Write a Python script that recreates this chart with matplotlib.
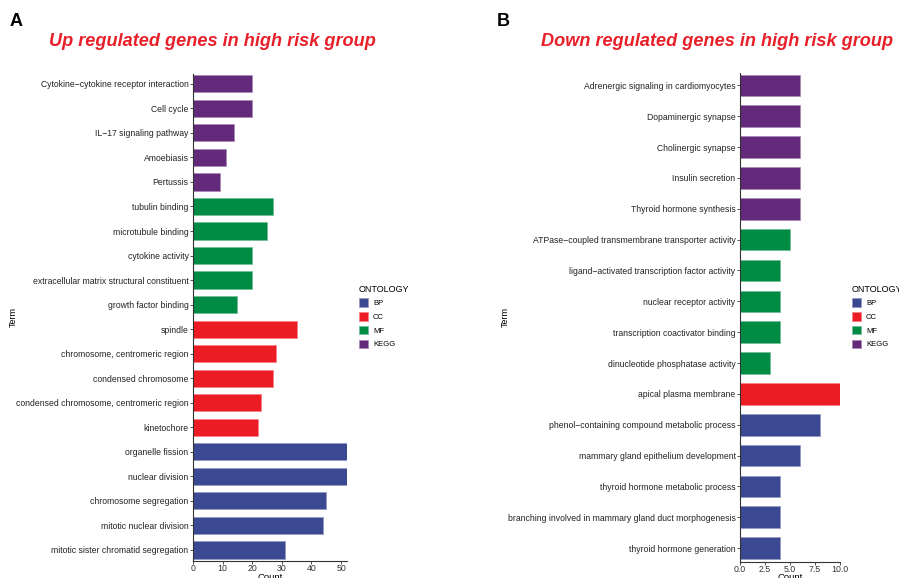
import matplotlib
matplotlib.use("Agg")
import matplotlib.pyplot as plt
from matplotlib.patches import Patch
import matplotlib.colors as mcolors
import numpy as np

plt.rcParams['font.family'] = ['Liberation Sans', 'DejaVu Sans']

# Ontology colours
ont_colors = {"BP": "#3B4992", "CC": "#EC1C24", "MF": "#008B45", "KEGG": "#632A7B"}
ont_order = ["BP", "CC", "MF", "KEGG"]

# Panel A: up regulated genes (listed top to bottom)
up_terms = [
    "Cytokine\u2212cytokine receptor interaction", "Cell cycle", "IL\u221217 signaling pathway",
    "Amoebiasis", "Pertussis",
    "tubulin binding", "microtubule binding", "cytokine activity",
    "extracellular matrix structural constituent", "growth factor binding",
    "spindle", "chromosome, centromeric region", "condensed chromosome",
    "condensed chromosome, centromeric region", "kinetochore",
    "organelle fission", "nuclear division", "chromosome segregation",
    "mitotic nuclear division", "mitotic sister chromatid segregation",
]
up_counts = [20, 20, 14, 11, 9,
             27, 25, 20, 20, 15,
             35, 28, 27, 23, 22,
             52, 52, 45, 44, 31]
up_ont = ["KEGG"] * 5 + ["MF"] * 5 + ["CC"] * 5 + ["BP"] * 5

# Panel B: down regulated genes (listed top to bottom)
down_terms = [
    "Adrenergic signaling in cardiomyocytes", "Dopaminergic synapse", "Cholinergic synapse",
    "Insulin secretion", "Thyroid hormone synthesis",
    "ATPase\u2212coupled transmembrane transporter activity",
    "ligand\u2212activated transcription factor activity", "nuclear receptor activity",
    "transcription coactivator binding", "dinucleotide phosphatase activity",
    "apical plasma membrane",
    "phenol\u2212containing compound metabolic process", "mammary gland epithelium development",
    "thyroid hormone metabolic process",
    "branching involved in mammary gland duct morphogenesis", "thyroid hormone generation",
]
down_counts = [6, 6, 6, 6, 6,
               5, 4, 4, 4, 3,
               10,
               8, 6, 4, 4, 4]
down_ont = ["KEGG"] * 5 + ["MF"] * 5 + ["CC"] + ["BP"] * 5

up_xticks = [0, 10, 20, 30, 40, 50]
down_xticks = [0.0, 2.5, 5.0, 7.5, 10.0]


def lighten(c, amt=0.45):
    r, g, b = mcolors.to_rgb(c)
    return (r + (1 - r) * amt, g + (1 - g) * amt, b + (1 - b) * amt)


def panel(fig, rect, terms, counts, onts, xmax, xticks, xticklabels):
    ax = fig.add_axes(rect)
    n = len(terms)
    ypos = np.arange(n)[::-1]
    fills = [ont_colors[o] for o in onts]
    edges = [lighten(ont_colors[o]) for o in onts]
    ax.barh(ypos, counts, height=0.7, color=fills, edgecolor=edges, linewidth=0.6)
    ax.set_yticks(ypos)
    ax.set_yticklabels(terms, fontsize=6.2, color="#222222")
    ax.set_ylim(-0.45, n - 0.6)
    ax.set_xlim(0, xmax)
    ax.set_xticks(xticks)
    ax.set_xticklabels(xticklabels, fontsize=6.3, color="#333333")
    for s in ["top", "right"]:
        ax.spines[s].set_visible(False)
    for s in ["left", "bottom"]:
        ax.spines[s].set_color("#333333")
        ax.spines[s].set_linewidth(0.8)
    ax.tick_params(axis="both", length=2, width=0.6, color="#333333", pad=1.2)
    ax.tick_params(axis="x", pad=0.3)
    ax.set_xlabel("Count", fontsize=6.8, labelpad=-0.5)
    return ax


fig = plt.figure(figsize=(8.99, 5.78), dpi=100)

axA = panel(fig, [193 / 899, 1 - 561 / 578, 154 / 899, 487 / 578],
            up_terms, up_counts, up_ont, 52, up_xticks, [str(t) for t in up_xticks])
axB = panel(fig, [740 / 899, 1 - 562 / 578, 100 / 899, 489 / 578],
            down_terms, down_counts, down_ont, 10, down_xticks,
            ["0.0", "2.5", "5.0", "7.5", "10.0"])

fig.text(13 / 899, 1 - 317 / 578, "Term", rotation=90, fontsize=6.5, ha="center", va="center")
fig.text(505 / 899, 1 - 317 / 578, "Term", rotation=90, fontsize=6.5, ha="center", va="center")

fig.text(10 / 899, 1 - 22 / 578, "A", fontsize=13, fontweight="bold", ha="left", va="center")
fig.text(497 / 899, 1 - 22 / 578, "B", fontsize=13, fontweight="bold", ha="left", va="center")

fig.text(212 / 899, 1 - 41 / 578, "Up regulated genes in high risk group", fontsize=13.1,
         fontweight="bold", fontstyle="italic", color="#E8202A", ha="center", va="center")
fig.text(541 / 899, 1 - 41 / 578, "Down regulated genes in high risk group", fontsize=13.1,
         fontweight="bold", fontstyle="italic", color="#E8202A", ha="left", va="center")

handles = [Patch(facecolor=ont_colors[o], edgecolor=lighten(ont_colors[o]), linewidth=0.6, label=o)
           for o in ont_order]
for x0 in (357, 850):
    leg = fig.legend(handles=handles, title="ONTOLOGY", loc="upper left",
                     bbox_to_anchor=(x0 / 899, 1 - 283 / 578), frameon=False,
                     fontsize=5.5, title_fontsize=6.5, handlelength=1.3, handleheight=1.3,
                     labelspacing=0.65, handletextpad=0.6, borderaxespad=0, borderpad=0.2,
                     alignment="left")

fig.savefig("out.png", dpi=100)
